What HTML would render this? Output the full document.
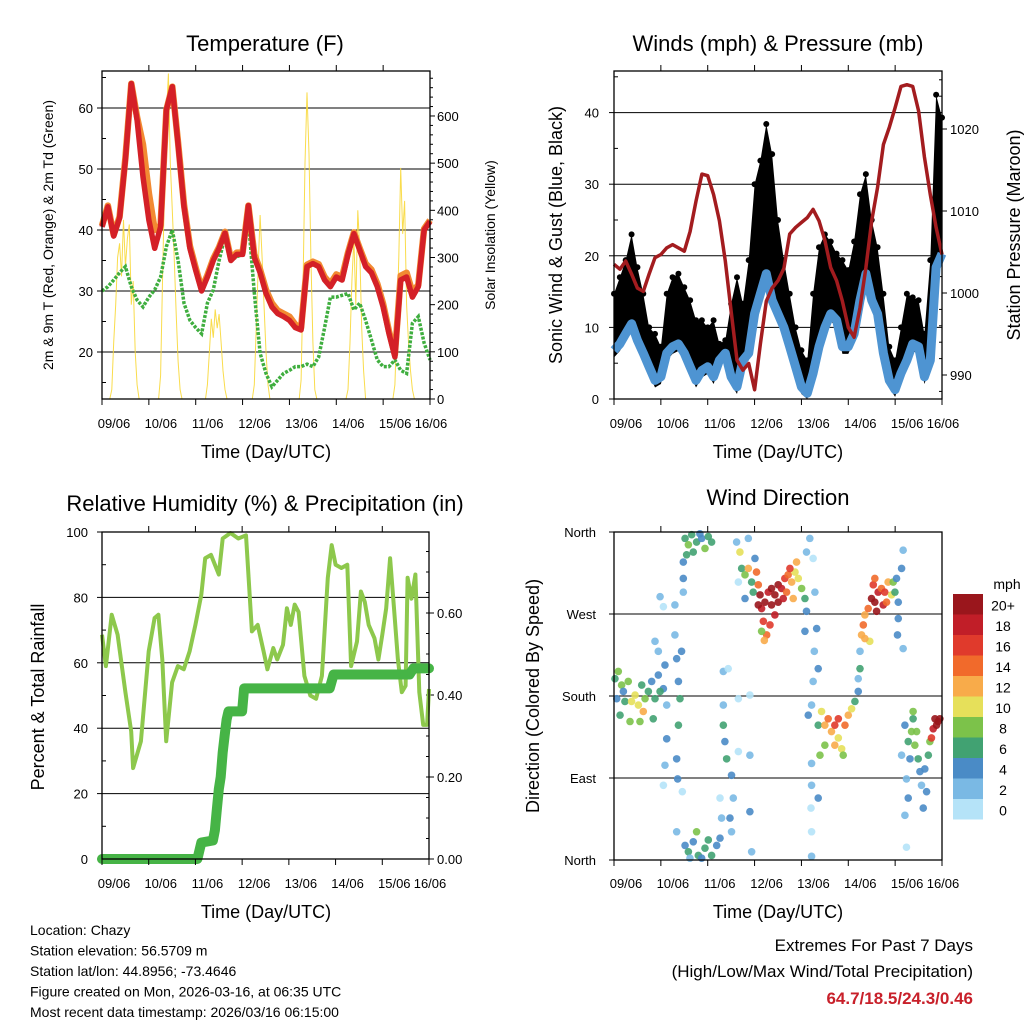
<!DOCTYPE html>
<html><head><meta charset="utf-8"><style>
body{margin:0;background:#fff;}
svg text{font-family:"Liberation Sans",sans-serif;}
</style></head><body>
<svg id="fig" width="1024" height="1024" viewBox="0 0 1024 1024" xmlns="http://www.w3.org/2000/svg">
<g id="layer"></g>
</svg>
<script>
// ---------- data ----------
const hours3 = [0,3,6,9,12,15,18,21,24,27,30,33,36,39,42,45,48,51,54,57,60,63,66,69,72,75,78,81,84,87,90,93,96,99,102,105,108,111,114,117,120,123,126,129,132,135,138,141,144,147,150,153,156,159,162,165,168];
const dayLabels = ["09/06","10/06","11/06","12/06","13/06","14/06","15/06","16/06"];
const temp2m = [40.5,43.8,39,42,51.5,64,58,48.7,41.6,37,40.5,59.7,63.5,54,43.8,37,33.4,30,32.3,35,37,39.5,35,36,36,44,35.5,33,29.6,27.4,26.3,25.8,25.2,24,23.6,34,34.5,34,31.8,30.7,32.3,31.8,36,39.4,36.7,34,33,30.7,27.4,23,19.2,31.8,32.3,29,30.7,40,41.4];
const temp9m = [40.7,44,39.2,42.2,51.8,64,58.5,54,46,40,40.8,59.7,63.5,54.3,44.2,37.4,33.8,30.4,32.6,35.3,37.2,39.7,35.3,36.3,36.3,44,36,33.5,30.2,28,26.8,26.3,25.8,24.5,24,34.3,34.8,34.4,32.3,31.2,32.7,32.3,36.3,39.6,37,34.5,33.5,31.2,27.9,23.4,19.6,32.5,33,29.8,31,40.2,41.6];
const dewpt = [30,30.7,31.8,33,34,30.7,28.5,27.4,29,30.2,32.3,37.3,40,35,28,25.2,24,23,28,30.2,35,39,35,35.6,36,41.6,29.7,19.8,16.5,14.3,15.4,16.5,17,17.6,17.6,18,17.6,19.2,24,29,29,29.3,29.6,26.9,28,25.2,22,18.7,17.6,17.6,18.7,17,16.5,24.7,25.8,21.5,18.7];
const solar = [
0,0,0,0,0,20,120,200,300,330,260,380,280,340,370,200,250,100,30,0,0,0,0,0,
0,0,0,0,0,0,50,250,450,600,690,500,400,300,180,80,20,0,0,0,0,0,0,0,
0,0,0,0,0,0,30,100,170,130,190,150,180,120,60,20,0,0,0,0,0,0,0,0,
0,0,0,0,0,0,30,150,280,390,300,200,100,30,0,0,0,0,0,0,0,0,0,0,
0,0,0,0,0,0,40,250,500,650,520,300,120,20,0,0,0,0,0,0,0,0,0,0,
0,0,0,0,0,0,20,120,250,340,200,400,320,150,60,0,0,0,0,0,0,0,0,0,
0,0,0,0,0,0,30,150,300,490,350,420,200,120,60,20,0,0,0,0,0,0,0,0,
0];
const windMean = [6.8,7.7,9.1,10.5,8.2,6.4,4.5,2.6,3.1,6.4,7.3,7.7,6.4,4.5,2.6,4,4.5,3.1,5.4,6.4,3.1,1.7,5.4,6.4,11.9,14.7,17.5,13.8,11.9,10,7.3,4.5,1.7,0.8,3.6,7.3,10,11.9,11,7.3,7.3,9.1,13.8,17.5,13.8,11.9,6.4,2.6,1.3,3.6,5.4,7.7,7.3,3.1,5.4,18.4,20.3];
const gustHi = [14.7,17,19.4,23,18.4,14.7,10,9.1,7.3,14.7,17,17.5,15.6,13.8,11,11,10,11,7.7,8.2,13.3,17,13.3,19.4,30,33.3,38.4,34.2,25,19.4,14.7,10,6.8,5.4,14.7,21.2,23,22,20.3,19.4,18,22,28.6,31.4,25,21.2,14.7,7.3,5.4,10,14.7,14.2,13.8,9.1,19.4,42.5,39.3];
const pressure = [1003.5,1002.9,1003.9,1002.3,1000.6,1000.2,1002.3,1004.3,1004.7,1005.5,1005.9,1005.5,1005.1,1007.5,1011.2,1014.5,1014.3,1012,1008.8,1003.9,997.8,991.8,990.6,991.4,988.2,993.8,999,1000.6,1001.5,1003,1007.2,1008,1008.6,1009.2,1010.2,1008.8,1006.4,1003.1,1001.5,999,995.8,994.6,998.2,1003.1,1008.8,1012.9,1018.1,1020.2,1022.6,1025.2,1025.4,1025.2,1022.2,1016.6,1012,1008,1004.7];
const rhT = [0,2,5,8,12,15,16,20,24,27,29,31,33,36,39,42,45,48,51,53,56,60,62,66,70,74,77,80,83,85,88,90,93,95,97,99,101,104,107,110,113,116,118,120,123,126,128,131,133,135,137,140,142,144,146,148,150,152,154,156,157,159,161,163,165,167,168];
const rhV = [68.6,59,74.7,68.6,51,39,27.8,36,63.5,73.7,74.7,61,36,54,59,58,63.5,71.6,80.8,92,93,87,98,99.7,98,99,69.6,71.6,63.5,58,64.5,61,65.5,76.7,71.6,77.8,75.5,56,50,49,56,86,96,90,89,90,59,66.5,81.8,78.6,71.6,67.5,61,68.6,76.7,92,76.7,61,51,53,86,79.6,87,51,41,41,52];
const precipT = [0,49,51,57,58,59,60,61,62,63,64,65,72,73,117,119,158,160,168];
const precipV = [0,0,0.04,0.045,0.07,0.12,0.17,0.2,0.26,0.3,0.34,0.36,0.36,0.416,0.416,0.45,0.45,0.465,0.465];
const dirT = [0.5,1.4,2.2,3.1,5.6,8.2,10.8,12.5,14.2,15,17.6,19.3,21,22.7,25.3,27,3.9,9,15.9,23.6,4.8,7.3,13.3,20.1,
23.6,25.3,21,22.7,26.1,27,26.1,25.3,31.2,31.2,32.1,33,33.8,33,32.1,32.6,35,34.6,35.5,35.5,35.5,
36.4,38.1,39.8,42.3,44.9,46.6,48.3,50,40.6,44,37.2,
32.1,36.4,38.1,40.6,43.2,46.6,50,52.6,54.3,38.9,48.3,42.3,44.9,
56,56.8,57.7,56,60.2,61.1,59.4,60.2,55.1,63.7,69.6,69.6,70.5,56,63.7,69.6,58.5,54.3,
62.8,64.5,65.4,67.1,68.8,70.5,72.2,73,71.3,67.1,73.9,63.7,68.8,
74.8,75.6,77.3,79,80.7,82.4,84.1,85.8,87.5,89.2,91,92.7,94.4,96.1,97.8,76.5,78.2,79.9,77,84.1,80.7,88.4,91.8,75.6,73.9,86.7,82.4,90.1,93.5,
98.6,100.3,102,102.9,98.6,97.8,103.8,102.6,104.6,102,101.2,101.2,101.2,104.6,100.9,101.2,101.2,99.5,
104.6,106.3,108,109.7,111.4,113.1,114.9,116.6,118.3,120,121.7,123.4,108,114.9,117.4,105.5,113.1,125.1,126,126,125.1,
126.8,127.7,128.5,130.2,131.9,132.8,133.6,135.3,137,138.7,140.4,142.2,133.6,131,128.5,137.9,134.5,139.6,143,144.7,145.6,145.6,145.2,148.1,148.1,147.3,143.9,
149,150.7,152.4,154.1,155.8,155,153.2,156.7,157.5,149.8,150.7,149,149.8,159.2,160.1,158.4,161,161.8,151.6,147.3,153.2,
163.5,164.4,166,166.9,165.2,162.6];
const dirD = [199,177,207,159,174,152,181,170,192,163,185,196,177,203,188,170,192,174,177,185,185,196,152,155,
289,278,240,229,214,133,104,82,280,247,221,196,177,148,111,89,75,229,309,294,327,
353,346,357,349,353,342,355,349,338,358,335,
31,16,9,20,5,13,5,16,24,2,22,31,2,
148,130,111,170,93,68,46,31,46,119,115,53,9,207,177,181,210,68,
349,338,320,313,320,305,331,316,294,287,302,305,353,
291,276,283,294,280,291,302,298,309,313,305,316,309,298,287,262,247,258,241,283,298,294,287,251,280,287,269,320,327,
338,353,331,294,273,251,254,229,210,196,170,106,82,68,57,31,4,159,
148,163,148,155,141,148,134,122,148,159,166,174,126,155,115,115,126,185,210,229,199,
247,258,269,276,287,302,283,294,298,294,305,291,309,240,243,280,273,283,305,309,283,265,247,340,232,320,294,
148,130,141,126,111,141,155,97,82,89,68,49,14,100,75,57,115,130,111,115,163,
144,155,152,155,148,134];
const dirS = [6,4,8,6,6,8,10,10,6,12,6,4,6,4,4,2,8,10,8,6,4,8,8,6,
2,0,2,2,4,4,2,0,2,2,4,4,6,6,4,4,0,4,4,2,4,
6,8,6,6,4,8,6,6,6,4,6,
2,4,6,4,6,6,6,4,4,2,6,8,4,
6,4,6,2,4,2,4,2,2,0,2,4,2,2,0,0,0,0,
2,10,6,8,12,6,4,14,6,4,14,0,2,
20,18,20,18,20,20,20,18,16,14,12,10,10,8,6,16,14,16,12,20,20,14,12,8,20,18,18,16,12,
2,2,0,2,4,4,4,2,4,2,2,2,2,4,0,0,2,4,
6,10,12,14,12,16,10,10,14,12,10,6,8,16,8,8,12,4,6,2,2,
12,14,12,14,20,16,20,18,14,16,12,10,14,10,12,18,20,14,8,4,4,4,4,2,2,4,6,
4,6,8,8,6,8,6,4,2,2,4,2,0,4,4,4,6,8,4,2,8,
18,20,20,20,20,16];
const speedBins = ["0","2","4","6","8","10","12","14","16","18","20+"];
const speedColors = ["#b5e3f8","#7ab9e4","#4a8bc6","#41a272","#7cc24a","#e6e05a","#f8ab4a","#f16a2b","#e03a2c","#c11e28","#9a161c"];

// ---------- helpers ----------
const NS="http://www.w3.org/2000/svg";
const layer=document.getElementById('layer');
function mk(tag,attrs,parent){const e=document.createElementNS(NS,tag);for(const k in attrs)e.setAttribute(k,attrs[k]);(parent||layer).appendChild(e);return e;}
function txt(s,x,y,size,anchor,parent,extra){const t=mk('text',Object.assign({x:x,y:y,'font-size':size,'text-anchor':anchor||'middle',fill:'#000'},extra||{}),parent);t.textContent=s;return t;}
function grp(name){const g=mk('g',{});return g;}
function poly(pts){return pts.map(p=>p[0].toFixed(1)+','+p[1].toFixed(1)).join(' ');}

function timeAxis(g,L,R,B,labelY){
  const dx=(R-L)/7;
  for(let i=0;i<=7;i++){
    const x=L+i*dx;
    mk('line',{x1:x,y1:B,x2:x,y2:B+6,stroke:'#000','stroke-width':1},g);
    const lx = i<7 ? x+12 : x+1;
    const t=txt(dayLabels[i],lx,labelY,13,'middle',g);
    
    
  }
}
function frame(g,L,T,R,B){mk('rect',{x:L,y:T,width:R-L,height:B-T,fill:'none',stroke:'#000','stroke-width':1.3},g);}
function topTicks(g,L,R,T){const dx=(R-L)/7;for(let i=1;i<7;i++){const x=L+i*dx;mk('line',{x1:x,y1:T,x2:x,y2:T-6,stroke:'#000'},g);}}

// ---------- Panel 1: Temperature ----------
(function(){
  const L=102,R=430,T=71,B=399;
  const g=grp('temperature-panel');
  const xs=h=>L+h*(R-L)/168;
  const yT=v=>352-(v-20)*6.1;
  const yS=v=>399-v*0.4717;
  [20,30,40,50,60].forEach(v=>{mk('line',{x1:L,y1:yT(v),x2:R,y2:yT(v),stroke:'#000','stroke-width':1},g);
    const t=txt(String(v),93,yT(v)+5,13,'end',g);
    mk('line',{x1:L-5,y1:yT(v),x2:L,y2:yT(v),stroke:'#000'},g);});
  [15,25,35,45,55,65].forEach(v=>mk('line',{x1:L,y1:yT(v),x2:L+4,y2:yT(v),stroke:'#000'},g));
  [0,100,200,300,400,500,600].forEach(v=>{mk('line',{x1:R,y1:yS(v),x2:R+5,y2:yS(v),stroke:'#000'},g);
    const t=txt(String(v),437,yS(v)+5,13,'start',g);});
  for(let v=20;v<=680;v+=20){if(v%100)mk('line',{x1:R,y1:yS(v),x2:R+3,y2:yS(v),stroke:'#000'},g);}
  const sol=mk('polyline',{points:poly(solar.map((v,i)=>[xs(i),yS(v)])),fill:'none',stroke:'#f8d838','stroke-width':1,opacity:0.9},g);
  
  const dp=mk('polyline',{points:poly(dewpt.map((v,i)=>[xs(hours3[i]),yT(v)])),fill:'none',stroke:'#3fae3f','stroke-width':3.5,'stroke-dasharray':'3,1.5'},g);
  
  const o=mk('polyline',{points:poly(temp9m.map((v,i)=>[xs(hours3[i]),yT(v)])),fill:'none',stroke:'#f28a32','stroke-width':6.5,'stroke-linejoin':'round'},g);
  
  const r=mk('polyline',{points:poly(temp2m.map((v,i)=>[xs(hours3[i]),yT(v)])),fill:'none',stroke:'#d42027','stroke-width':5.5,'stroke-linejoin':'round'},g);
  
  frame(g,L,T,R,B);topTicks(g,L,R,T);timeAxis(g,L,R,B,428);
  const t1=txt('Temperature (F)',265,51,22,'middle',g);
  const t2=txt('Time (Day/UTC)',266,458,18,'middle',g);
  const t3=txt('2m & 9m T (Red, Orange) & 2m Td (Green)',0,0,14,'middle',g,{transform:'translate(53,235) rotate(-90)'});
  const t4=txt('Solar Insolation (Yellow)',0,0,14,'middle',g,{transform:'translate(495,235) rotate(-90)'});
})();

// ---------- Panel 2: Winds & Pressure ----------
(function(){
  const L=614,R=942,T=71,B=399;
  const g=grp('winds-pressure-panel');
  const xs=h=>L+h*(R-L)/168;
  const yW=v=>399-v*7.16;
  const yP=v=>375-(v-990)*8.2;
  [10,20,30,40].forEach(v=>mk('line',{x1:L,y1:yW(v),x2:R,y2:yW(v),stroke:'#000'},g));
  [0,10,20,30,40].forEach(v=>{mk('line',{x1:L-5,y1:yW(v),x2:L,y2:yW(v),stroke:'#000'},g);
    const t=txt(String(v),599,yW(v)+5,13,'end',g);});
  [5,15,25,35,45].forEach(v=>mk('line',{x1:L,y1:yW(v),x2:L+4,y2:yW(v),stroke:'#000'},g));
  [990,1000,1010,1020].forEach(v=>{mk('line',{x1:R,y1:yP(v),x2:R+5,y2:yP(v),stroke:'#000'},g);
    const t=txt(String(v),950,yP(v)+5,13,'start',g);});
  for(let v=988;v<=1026;v+=2){if(v%10)mk('line',{x1:R,y1:yP(v),x2:R-3,y2:yP(v),stroke:'#000'},g);}
  const top=gustHi.map((v,i)=>[xs(hours3[i]),yW(v)]);
  const bot=windMean.map((v,i)=>[xs(hours3[i]),yW(Math.max(0,v-1))]).reverse();
  const ga=mk('polygon',{points:poly(top.concat(bot)),fill:'#000'},g);
  
  gustHi.forEach((v,i)=>{const c=mk('circle',{cx:xs(hours3[i]),cy:yW(v),r:3,fill:'#000'},g);
    });
  const wl=mk('polyline',{points:poly(windMean.map((v,i)=>[xs(hours3[i]),yW(v)])),fill:'none',stroke:'#4e94d2','stroke-width':9,'stroke-linejoin':'round'},g);
  
  const pl=mk('polyline',{points:poly(pressure.map((v,i)=>[xs(hours3[i]),yP(v)])),fill:'none',stroke:'#a31c1f','stroke-width':3.5,'stroke-linejoin':'round'},g);
  
  frame(g,L,T,R,B);topTicks(g,L,R,T);timeAxis(g,L,R,B,428);
  const t1=txt('Winds (mph) & Pressure (mb)',778,51,22,'middle',g);
  const t2=txt('Time (Day/UTC)',778,458,18,'middle',g);
  const t3=txt('Sonic Wind & Gust (Blue, Black)',0,0,18,'middle',g,{transform:'translate(562,235) rotate(-90)'});
  const t4=txt('Station Pressure (Maroon)',0,0,18,'middle',g,{transform:'translate(1020,235) rotate(-90)'});
})();

// ---------- Panel 3: RH & Precip ----------
(function(){
  const L=102,R=429,T=532,B=859;
  const g=grp('humidity-precip-panel');
  const xs=h=>L+h*(R-L)/168;
  const yR=v=>B-v*3.27;
  const yP=v=>B-v*410;
  [20,40,60,80].forEach(v=>mk('line',{x1:L,y1:yR(v),x2:R,y2:yR(v),stroke:'#000'},g));
  [0,20,40,60,80,100].forEach(v=>{mk('line',{x1:L-5,y1:yR(v),x2:L,y2:yR(v),stroke:'#000'},g);
    const t=txt(String(v),88,yR(v)+5,13,'end',g);});
  [10,30,50,70,90].forEach(v=>mk('line',{x1:L,y1:yR(v),x2:L+4,y2:yR(v),stroke:'#000'},g));
  [0,0.2,0.4,0.6].forEach(v=>{mk('line',{x1:R,y1:yP(v),x2:R+5,y2:yP(v),stroke:'#000'},g);
    const t=txt(v.toFixed(2),437,yP(v)+5,13,'start',g);});
  for(let v=0.05;v<0.8;v+=0.05){mk('line',{x1:R,y1:yP(v),x2:R-3,y2:yP(v),stroke:'#000'},g);}
  const rl=mk('polyline',{points:poly(rhV.map((v,i)=>[xs(rhT[i]),yR(v)])),fill:'none',stroke:'#8dc84c','stroke-width':4,'stroke-linejoin':'round'},g);
  
  const pl=mk('polyline',{points:poly(precipV.map((v,i)=>[xs(precipT[i]),yP(v)])),fill:'none',stroke:'#46b446','stroke-width':10,'stroke-linejoin':'round','stroke-linecap':'round'},g);
  
  frame(g,L,T,R,B);topTicks(g,L,R,T);timeAxis(g,L,R,B,888);
  const t1=txt('Relative Humidity (%) & Precipitation (in)',265,511,22,'middle',g);
  const t2=txt('Time (Day/UTC)',266,918,18,'middle',g);
  const t3=txt('Percent & Total Rainfall',0,0,18,'middle',g,{transform:'translate(44,697) rotate(-90)'});
})();

// ---------- Panel 4: Wind Direction ----------
(function(){
  const L=614,R=942,T=532,B=860;
  const g=grp('wind-direction-panel');
  const xs=h=>L+h*(R-L)/168;
  const yD=d=>B-d*(B-T)/360;
  const names=["North","East","South","West","North"];
  [90,180,270].forEach(d=>mk('line',{x1:L,y1:yD(d),x2:R,y2:yD(d),stroke:'#000'},g));
  [0,90,180,270,360].forEach((d,i)=>{mk('line',{x1:L-5,y1:yD(d),x2:L,y2:yD(d),stroke:'#000'},g);
    const t=txt(names[i],596,yD(d)+5,13,'end',g);});
  dirT.forEach((h,i)=>{
    const bin=Math.min(10,Math.round(dirS[i]/2));
    const c=mk('circle',{cx:xs(h),cy:yD(dirD[i]),r:3.8,fill:speedColors[bin],opacity:0.9},g);
    
  });
  frame(g,L,T,R,B);topTicks(g,L,R,T);timeAxis(g,L,R,B,888);
  const t1=txt('Wind Direction',778,505,22,'middle',g);
  const t2=txt('Time (Day/UTC)',778,918,18,'middle',g);
  const t3=txt('Direction (Colored By Speed)',0,0,18,'middle',g,{transform:'translate(539,696) rotate(-90)'});
  const cb=grp('speed-colorbar');
  const boxH=20.5, top=594;
  speedBins.forEach((lab,i)=>{
    const k=10-i;
    const y=top+i*boxH;
    const r=mk('rect',{x:953,y:y,width:30,height:boxH,fill:speedColors[k]},cb);
    
    const t=txt(speedBins[k],1003,y+boxH/2+6,14,'middle',cb);
    
  });
  const u=txt('mph',1007,589,14,'middle',cb);
})();

// ---------- footer text ----------
(function(){
  const g=grp('station-info');
  ["Location: Chazy","Station elevation: 56.5709 m","Station lat/lon: 44.8956; -73.4646","Figure created on Mon, 2026-03-16, at 06:35 UTC","Most recent data timestamp: 2026/03/16 06:15:00"].forEach((s,i)=>{
    const t=txt(s,30,935+i*20.5,14,'start',g);});
  const e=grp('extremes-summary');
  const a=txt('Extremes For Past 7 Days',973,951,17,'end',e);
  const b=txt('(High/Low/Max Wind/Total Precipitation)',973,977,17,'end',e);
  const c=txt('64.7/18.5/24.3/0.46',973,1004,17,'end',e,{'font-weight':'bold'});
  c.setAttribute('fill','#c8202a');c.style.fill='#c8202a';
  
})();
</script>
</body></html>
